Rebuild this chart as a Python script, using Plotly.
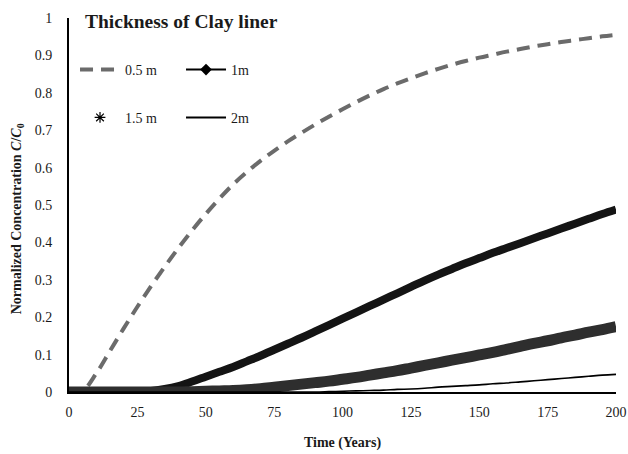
import plotly.graph_objects as go

# Time axis (years) and normalized concentration C/C0 for each liner thickness
years = list(range(0, 205, 5))

conc_05m = [0.0, 0.004, 0.05, 0.11, 0.17, 0.228, 0.283, 0.335, 0.385, 0.432,
            0.476, 0.517, 0.555, 0.588, 0.618, 0.645, 0.67, 0.693, 0.715, 0.736,
            0.756, 0.775, 0.793, 0.81, 0.825, 0.839, 0.852, 0.864, 0.875, 0.885,
            0.894, 0.902, 0.91, 0.917, 0.924, 0.93, 0.936, 0.941, 0.946, 0.951,
            0.955]

conc_1m = [0.0, 0.0, 0.0, 0.0, 0.0, 0.0, 0.003, 0.008, 0.016, 0.028,
           0.041, 0.054, 0.067, 0.082, 0.097, 0.113, 0.129, 0.145, 0.162, 0.179,
           0.196, 0.213, 0.23, 0.247, 0.264, 0.281, 0.298, 0.314, 0.329, 0.344,
           0.358, 0.372, 0.385, 0.398, 0.411, 0.424, 0.437, 0.45, 0.463, 0.476,
           0.488]

conc_15m = [0.0, 0.0, 0.0, 0.0, 0.0, 0.0, 0.0, 0.0, 0.0, 0.001,
            0.002, 0.003, 0.004, 0.006, 0.009, 0.013, 0.017, 0.021, 0.025, 0.029,
            0.034, 0.039, 0.045, 0.051, 0.057, 0.064, 0.071, 0.078, 0.085, 0.092,
            0.099, 0.106, 0.114, 0.122, 0.13, 0.137, 0.145, 0.152, 0.16, 0.167,
            0.175]

conc_2m = [0.0, 0.0, 0.0, 0.0, 0.0, 0.0, 0.0, 0.0, 0.0, 0.0,
           0.0, 0.0, 0.0, 0.0, 0.0, 0.0, 0.0, 0.0, 0.0, 0.001,
           0.002, 0.003, 0.004, 0.005, 0.007, 0.008, 0.01, 0.013, 0.015, 0.017,
           0.019, 0.022, 0.024, 0.027, 0.03, 0.033, 0.036, 0.039, 0.042, 0.045,
           0.047]

x_ticks = [0, 25, 50, 75, 100, 125, 150, 175, 200]
y_ticks = [0, 0.1, 0.2, 0.3, 0.4, 0.5, 0.6, 0.7, 0.8, 0.9, 1]
y_tick_text = ["0", "0.1", "0.2", "0.3", "0.4", "0.5", "0.6", "0.7", "0.8", "0.9", "1"]

SERIF = "Liberation Serif, Times New Roman, serif"
GREY = "#6b6b6b"
INK = "#1a1a1a"

fig = go.Figure()

# Curves (legend entries are drawn by the separate sample traces below)
fig.add_trace(go.Scatter(x=years, y=conc_05m, mode="lines", showlegend=False,
                         line=dict(color=GREY, width=4, dash="13px,8px", shape="spline")))
fig.add_trace(go.Scatter(x=years, y=conc_1m, mode="lines", showlegend=False,
                         line=dict(color="#141414", width=8, shape="spline")))
fig.add_trace(go.Scatter(x=years, y=conc_15m, mode="lines", showlegend=False,
                         line=dict(color="#2e2e2e", width=11, shape="spline")))
fig.add_trace(go.Scatter(x=years, y=conc_2m, mode="lines", showlegend=False,
                         line=dict(color="#000000", width=1.6, shape="spline")))

# Legend samples: two rows of two entries
fig.add_trace(go.Scatter(x=[None], y=[None], mode="lines", name="0.5 m", legend="legend",
                         line=dict(color=GREY, width=4, dash="13px,8px")))
fig.add_trace(go.Scatter(x=[None], y=[None], mode="lines+markers", name="1m", legend="legend",
                         line=dict(color="#000000", width=2),
                         marker=dict(symbol="diamond", size=9, color="#000000")))
fig.add_trace(go.Scatter(x=[None], y=[None], mode="markers", name="1.5 m", legend="legend2",
                         marker=dict(symbol="asterisk-open", size=9, color="#000000",
                                     line=dict(color="#000000", width=1.2))))
fig.add_trace(go.Scatter(x=[None], y=[None], mode="lines", name="2m", legend="legend2",
                         line=dict(color="#000000", width=2)))

legend_common = dict(orientation="h", xanchor="left", yanchor="middle",
                     itemwidth=40, entrywidth=51, entrywidthmode="pixels",
                     font=dict(family=SERIF, size=14, color=INK),
                     bgcolor="rgba(0,0,0,0)", borderwidth=0, traceorder="normal")

fig.update_layout(
    width=628, height=454,
    margin=dict(l=69, r=12, t=18, b=62, autoexpand=False),
    paper_bgcolor="white", plot_bgcolor="white",
    font=dict(family=SERIF, size=14, color=INK),
    legend=dict(x=0.0110, y=0.861, **legend_common),
    legend2=dict(x=0.0110, y=0.733, **legend_common),
    xaxis=dict(range=[0, 200], tickvals=x_ticks, showgrid=False, zeroline=False,
               showline=True, linecolor="#000000", linewidth=2, ticks="",
               ticklabelstandoff=6, automargin=False,
               tickfont=dict(family=SERIF, size=14, color=INK),
               title=dict(text="<b>Time (Years)</b>", standoff=18,
                          font=dict(family=SERIF, size=14, color=INK))),
    yaxis=dict(range=[0, 1], tickvals=y_ticks, ticktext=y_tick_text, showgrid=False,
               zeroline=False, showline=True, linecolor="#000000", linewidth=2,
               ticks="", ticklabelstandoff=12, automargin=False,
               tickfont=dict(family=SERIF, size=14, color=INK)),
    annotations=[
        dict(text="<b>Thickness of Clay liner</b>", xref="paper", yref="paper",
             x=0.026, y=0.99, xanchor="left", yanchor="middle", showarrow=False,
             font=dict(family=SERIF, size=19.5, color=INK)),
        dict(text="<b>Normalized Concentration <i>C</i>/<i>C</i><sub>0</sub></b>",
             xref="paper", yref="paper", x=-0.095, y=0.462, xanchor="center",
             yanchor="middle", textangle=-90, showarrow=False,
             font=dict(family=SERIF, size=14, color=INK)),
    ],
)

fig.write_html("out.html")
